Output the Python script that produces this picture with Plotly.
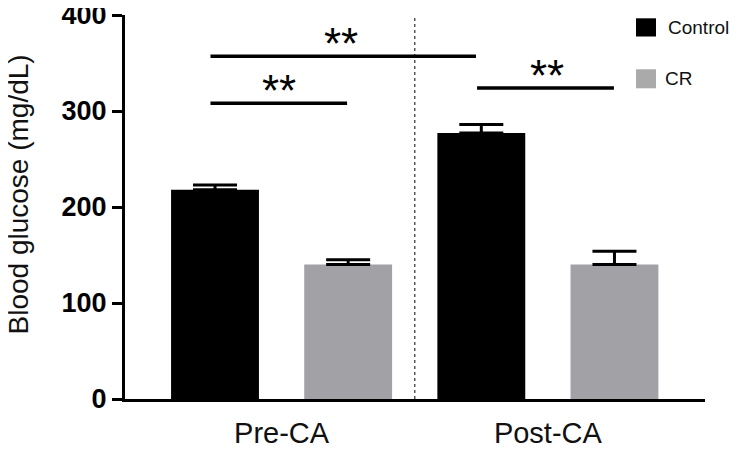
import plotly.graph_objects as go

# ---- data ----
categories = ["Pre-CA", "Post-CA"]
series_names = ["Control", "CR"]
control_values = [218, 277]
control_errors = [5, 9]
cr_values = [140, 140]
cr_errors = [5, 14]
y_ticks = [0, 100, 200, 300, 400]

# significance brackets
sig_x0 = [-0.267, -0.267, 0.734]
sig_x1 = [0.73, 0.246, 1.248]
sig_y = [357, 308, 324]
sig_text_x = [0.223, -0.01, 0.998]
sig_labels = ["**", "**", "**"]

# ---- styling ----
BLACK = "#000000"
GRAY = "#a2a2a6"
LEG_GRAY = "#aaaaaa"
FONT = "Liberation Sans, Arial, sans-serif"

OFF = 8  # page body margin
W, H = 739 - OFF, 449 - OFF
ML, MR, MT, MB = 125 - OFF, 34, 15 - OFF, 50
PW, PH = W - ML - MR, H - MT - MB


def px_x(px):
    return (px - OFF - ML) / PW


def px_y(py):
    return 1 - (py - OFF - MT) / PH


fig = go.Figure()
fig.add_trace(go.Bar(
    x=categories, y=control_values, name=series_names[0],
    marker=dict(color=BLACK, line=dict(width=0)),
    width=0.33, offset=-0.415,
    error_y=dict(type="data", array=control_errors, arrayminus=[0] * len(control_errors),
                 symmetric=False, color=BLACK, thickness=3, width=22),
))
fig.add_trace(go.Bar(
    x=categories, y=cr_values, name=series_names[1],
    marker=dict(color=GRAY, line=dict(width=0)),
    width=0.33, offset=0.085,
    error_y=dict(type="data", array=cr_errors, arrayminus=[0] * len(cr_errors),
                 symmetric=False, color=BLACK, thickness=3, width=22),
))

shapes = []
annotations = []

# dotted separator between groups
shapes.append(dict(type="line", xref="x", yref="y", x0=0.5, x1=0.5, y0=0, y1=400,
                   line=dict(color="#555555", width=1.5, dash="dot"), layer="below"))

# significance brackets
for x0, x1, y, tx, lab in zip(sig_x0, sig_x1, sig_y, sig_text_x, sig_labels):
    shapes.append(dict(type="line", xref="x", yref="y", x0=x0, x1=x1, y0=y, y1=y,
                       line=dict(color=BLACK, width=3.5)))
    annotations.append(dict(x=tx, y=y, xref="x", yref="y",
                            text=lab, showarrow=False, yanchor="bottom", yshift=-14,
                            font=dict(family=FONT, size=44, color=BLACK)))

# manual legend
leg_items = [(series_names[0], BLACK, 18.3, 36.5, 667),
             (series_names[1], LEG_GRAY, 69.3, 88.3, 664)]
for name, col, top, bot, tx in leg_items:
    shapes.append(dict(type="rect", xref="paper", yref="paper",
                       x0=px_x(636), x1=px_x(656), y0=px_y(bot), y1=px_y(top),
                       fillcolor=col, line=dict(width=0)))
    annotations.append(dict(x=px_x(tx), y=px_y((top + bot) / 2), xref="paper", yref="paper",
                            text=name, showarrow=False, xanchor="left", yanchor="middle",
                            borderpad=0,
                            font=dict(family=FONT, size=19, color="#111111")))

# y-axis title
annotations.append(dict(x=px_x(18), y=px_y(194.5), xref="paper", yref="paper",
                        text="Blood glucose (mg/dL)", showarrow=False, textangle=-90,
                        xanchor="center", yanchor="middle",
                        font=dict(family=FONT, size=28, color="#111111")))

fig.update_layout(
    width=W, height=H,
    margin=dict(l=ML, r=MR, t=MT, b=MB, autoexpand=False),
    paper_bgcolor="white", plot_bgcolor="white",
    barmode="group", showlegend=False,
    shapes=shapes, annotations=annotations,
    xaxis=dict(type="category", range=[-0.588, 1.59], showline=True, linecolor=BLACK,
               linewidth=3, ticks="", showgrid=False, zeroline=False,
               ticklabelstandoff=6,
               tickfont=dict(family=FONT, size=29, color="#111111")),
    yaxis=dict(range=[0, 400], tickvals=y_ticks, showline=True, linecolor=BLACK,
               linewidth=3, ticks="outside", ticklen=10, tickwidth=3, tickcolor=BLACK,
               showgrid=False, zeroline=False, ticklabeloverflow="allow",
               tickfont=dict(family=FONT, size=27, color=BLACK, weight="bold")),
)

fig.write_html("out.html")
